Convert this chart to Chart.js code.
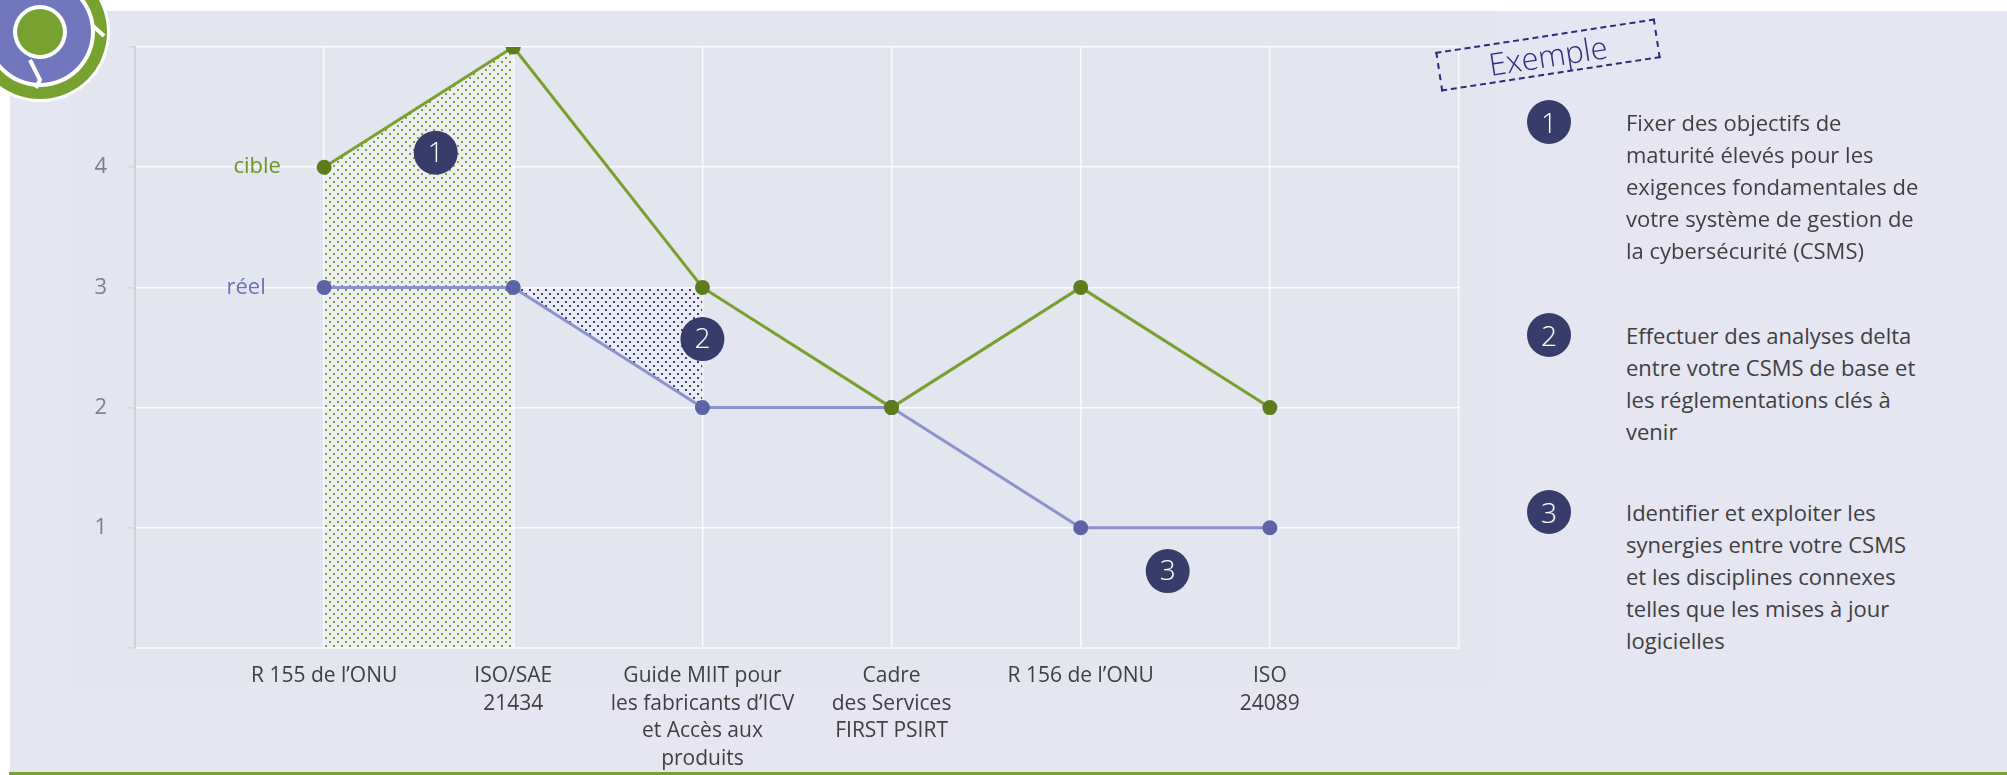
<!DOCTYPE html>
<html lang="fr">
<head>
<meta charset="utf-8">
<script src="https://cdn.jsdelivr.net/npm/chart.js@4.4.1/dist/chart.umd.min.js"></script>
<style>
  html, body { margin: 0; padding: 0; background: #fff; }
  body { width: 2007px; height: 775px; position: relative; overflow: hidden; font-family: "Open Sans", sans-serif; }
  #bg { position: absolute; left: 10px; top: 11px; right: 0; bottom: 0; background: #e5e6f1; }
  #panel { position: absolute; left: 70px; top: 11px; width: 1425px; height: 676px; background: #e3e5ef; }
  #greenline { position: absolute; left: 9px; right: 0; top: 772px; height: 3px; background: #78a22f; }
  #wrap { position: absolute; left: 0; top: 0; width: 1500px; height: 775px; }
  #logo { position: absolute; left: 0; top: 0; }
  #exemple { position: absolute; left: 1437px; top: 35px; width: 218px; height: 36px; border: 2px dashed #2d2b7a;
    transform: rotate(-8.7deg); color: #2d2f80; font-weight: 300; font-size: 31px; line-height: 36px; text-align: center; }
  .badge { position: absolute; width: 44px; height: 44px; border-radius: 50%; background: #383c6a; color: #fff;
    font-size: 28px; font-weight: 300; line-height: 44px; text-align: center; }
  .note { position: absolute; left: 1626px; color: #404040; font-size: 22px; line-height: 32px; }
</style>
</head>
<body>
<div id="bg"></div>
<div id="panel"></div>
<div id="greenline"></div>
<div id="wrap"><canvas id="chart"></canvas></div>
<svg id="logo" width="120" height="110" viewBox="0 0 120 110">
  <circle cx="40" cy="32" r="70" fill="#fff"/>
  <circle cx="40" cy="32" r="67" fill="#78a22f"/>
  <circle cx="40" cy="32" r="55" fill="#fff"/>
  <circle cx="40" cy="32" r="51" fill="#7077bd"/>
  <circle cx="40" cy="32" r="27" fill="#fff"/>
  <circle cx="40" cy="32" r="23" fill="#78a22f"/>
  <path d="M93 26 L104 36 M30 60 L40 80 L36 88" stroke="#fff" stroke-width="4" fill="none"/>
</svg>
<div id="exemple">Exemple</div>
<div id="notes"></div>
<script>
const categories = [
  "R 155 de l’ONU",
  ["ISO/SAE", "21434"],
  ["Guide MIIT pour", "les fabricants d’ICV", "et Accès aux", "produits"],
  ["Cadre", "des Services", "FIRST PSIRT"],
  "R 156 de l’ONU",
  ["ISO", "24089"]
];
const cible = [4, 5, 3, 2, 3, 2];
const reel = [3, 3, 2, 2, 1, 1];
const yTicks = [1, 2, 3, 4];

// numbered markers placed in data coordinates (category index, value)
const markers = [
  { n: "1", x: 1.59, y: 4.12 },
  { n: "2", x: 3.0, y: 2.57 },
  { n: "3", x: 5.46, y: 0.64 }
];

const notes = [
  ["Fixer des objectifs de", "maturité élevés pour les", "exigences fondamentales de", "votre système de gestion de", "la cybersécurité (CSMS)"],
  ["Effectuer des analyses delta", "entre votre CSMS de base et", "les réglementations clés à", "venir"],
  ["Identifier et exploiter les", "synergies entre votre CSMS", "et les disciplines connexes", "telles que les mises à jour", "logicielles"]
];
const noteTops = [106, 319, 496];

const notesEl = document.getElementById("notes");
notes.forEach((lines, i) => {
  const b = document.createElement("div");
  b.className = "badge";
  b.style.left = "1527px";
  b.style.top = (noteTops[i] - 6) + "px";
  b.textContent = String(i + 1);
  notesEl.appendChild(b);
  const t = document.createElement("div");
  t.className = "note";
  t.style.top = noteTops[i] + "px";
  t.innerHTML = lines.join("<br>");
  notesEl.appendChild(t);
});

// padded so the first and last slots stay empty
const labels = ["", ...categories, ""];
const pad = (arr) => [null, ...arr, null];
const area1 = pad(cible.map((v, i) => (i <= 1 ? v : null)));
const area2 = pad(reel.map((v, i) => (i === 1 || i === 2 ? reel[1] : null)));

function dots(color, bg) {
  const c = document.createElement("canvas");
  c.width = 8; c.height = 8;
  const g = c.getContext("2d");
  g.fillStyle = bg; g.fillRect(0, 0, 8, 8);
  g.fillStyle = color;
  g.fillRect(1, 1, 2, 2);
  g.fillRect(5, 5, 2, 2);
  return g.createPattern(c, "repeat");
}

const overlay = {
  id: "overlay",
  afterDatasetsDraw(chart) {
    const { ctx, scales } = chart;
    const x = scales.x, y = scales.y;
    ctx.save();
    ctx.font = "22px 'Open Sans'";
    ctx.textAlign = "center";
    ctx.textBaseline = "middle";
    ctx.fillStyle = "#6f9424";
    ctx.fillText("cible", x.getPixelForValue(1) - 67, y.getPixelForValue(cible[0]));
    ctx.fillStyle = "#6a72b8";
    ctx.fillText("réel", x.getPixelForValue(1) - 78, y.getPixelForValue(reel[0]));
    ctx.font = "300 28px 'Open Sans'";
    markers.forEach((m) => {
      const px = x.getPixelForValue(m.x), py = y.getPixelForValue(m.y);
      ctx.fillStyle = "#383c6a";
      ctx.beginPath(); ctx.arc(px, py, 22, 0, Math.PI * 2); ctx.fill();
      ctx.fillStyle = "#fff";
      ctx.fillText(m.n, px, py + 1);
    });
    ctx.restore();
  }
};

new Chart(document.getElementById("chart"), {
  type: "line",
  data: {
    labels,
    datasets: [
      {
        label: "cible",
        data: pad(cible),
        borderColor: "#79a02e",
        pointBackgroundColor: "#5d7d1d",
        pointBorderColor: "#5d7d1d",
        borderWidth: 3,
        pointRadius: 6,
        fill: false,
        order: 1
      },
      {
        label: "réel",
        data: pad(reel),
        borderColor: "#8c92cc",
        pointBackgroundColor: "#5c64a8",
        pointBorderColor: "#5c64a8",
        borderWidth: 3,
        pointRadius: 6,
        fill: false,
        order: 1
      },
      {
        label: "zone1",
        data: area1,
        borderWidth: 0,
        pointRadius: 0,
        backgroundColor: dots("#7fa030", "rgba(255,255,255,0.35)"),
        fill: "start",
        order: 3
      },
      {
        label: "zone2",
        data: area2,
        borderWidth: 0,
        pointRadius: 0,
        backgroundColor: dots("#3d427a", "rgba(255,255,255,0.25)"),
        fill: 1,
        order: 2
      }
    ]
  },
  options: {
    responsive: true,
    maintainAspectRatio: false,
    animation: false,
    layout: { padding: { left: 0, top: 47, right: 41, bottom: 0 } },
    plugins: {
      legend: { display: false },
      tooltip: { enabled: false }
    },
    scales: {
      x: {
        type: "category",
        offset: false,
        grid: { color: "rgba(255,255,255,0.85)", lineWidth: 1.5, drawTicks: false },
        border: { color: "#f4f5fa", width: 2 },
        ticks: {
          color: "#404040",
          font: { family: "'Open Sans'", size: 21, lineHeight: 1.32 },
          padding: 14,
          maxRotation: 0,
          autoSkip: false
        },
        afterFit: (s) => { s.height = 127; }
      },
      y: {
        min: 0,
        max: 5,
        grid: { color: "rgba(255,255,255,0.85)", lineWidth: 1.5, tickLength: 8, tickColor: "#ddd3dd" },
        border: { color: "#cfd0dc", width: 2 },
        ticks: {
          stepSize: 1,
          color: "#7d8090",
          font: { family: "'Open Sans'", size: 22 },
          padding: 20,
          callback: (v) => (yTicks.includes(v) ? String(v) : "")
        },
        afterFit: (s) => { s.width = 135; }
      }
    }
  },
  plugins: [overlay]
});
</script>
</body>
</html>
